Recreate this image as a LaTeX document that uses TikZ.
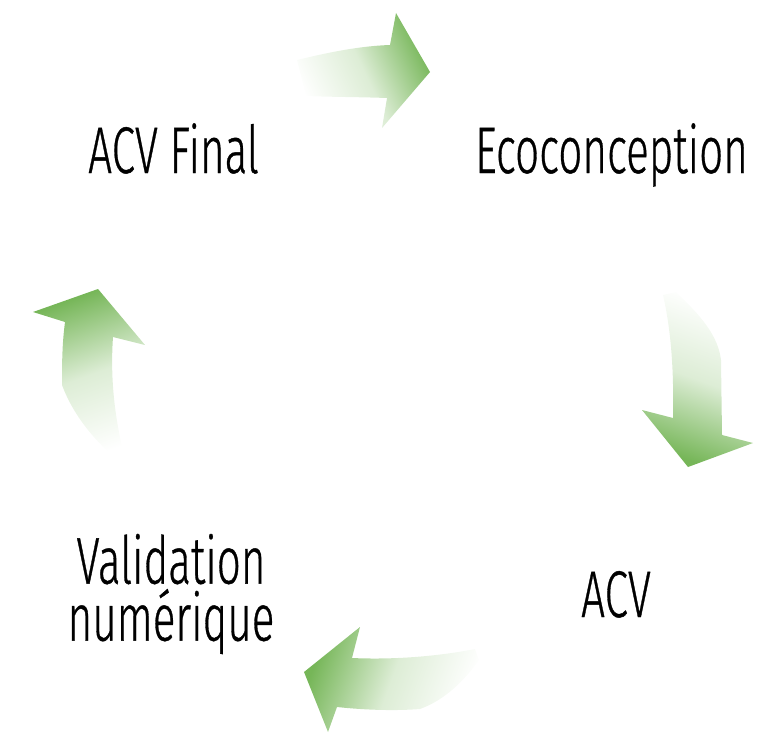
\documentclass[tikz,border=0pt]{standalone}
\usepackage{fontspec}
\setmainfont{Fira Sans}[UprightFont={* Light}, UprightFeatures={FakeBold=0.7}]
\usepackage{graphicx}
\usepackage{tikz}
\usetikzlibrary{positioning}

\definecolor{vertfleche}{RGB}{118,182,88}
\newcommand{\etroit}[1]{\scalebox{0.64}[1]{#1}}

\begin{document}
\begin{tikzpicture}[
  x=1pt, y=-1pt,
  etape/.style={font=\fontsize{66}{57}\selectfont, inner sep=0pt, align=center, text=black},
  fleche/.style={draw=none, top color=vertfleche, bottom color=white, middle color=vertfleche!25}]

\useasboundingbox (0,0) rectangle (776,733);

% les quatre etapes
\node[etape, anchor=base] (final) at (173.5,173) {\etroit{ACV Final}};
\node[etape, anchor=base] (eco) at (611.5,173) {\etroit{Ecoconception}};
\node[etape, anchor=base] (acv) at (616,617) {\etroit{ACV}};
\node[etape] (valid) at (171,594) {\etroit{Validation}\\\etroit{numérique}};

% fleches courbes
\shade[fleche, shading angle=-65] (297,60) .. controls (330,52) and (360,46) .. (390,45)
  -- (396,13) -- (430,72) -- (382,128) -- (387,98)
  .. controls (360,97) and (330,97) .. (306,96) -- cycle;
\shade[fleche, shading angle=160] (663,295) -- (676,292)
  .. controls (700,315) and (718,335) .. (721,360) -- (722,435)
  -- (753,443) -- (688,467) -- (642,410) -- (673,418)
  .. controls (674,370) and (671,330) .. (663,295) -- cycle;
\shade[fleche, shading angle=70] (475,649) .. controls (440,656) and (395,660) .. (352,658)
  -- (360,627) -- (304,672) -- (328,732) -- (337,707)
  .. controls (365,710) and (395,711) .. (420,709)
  .. controls (445,700) and (465,680) .. (479,660) -- cycle;
\shade[fleche, shading angle=20] (65,322) .. controls (62,345) and (62,365) .. (62,385)
  .. controls (75,420) and (100,445) .. (118,461) -- (125,459)
  .. controls (115,420) and (110,380) .. (113,337)
  -- (145,345) -- (98,289) -- (33,312) -- cycle;

\end{tikzpicture}
\end{document}
